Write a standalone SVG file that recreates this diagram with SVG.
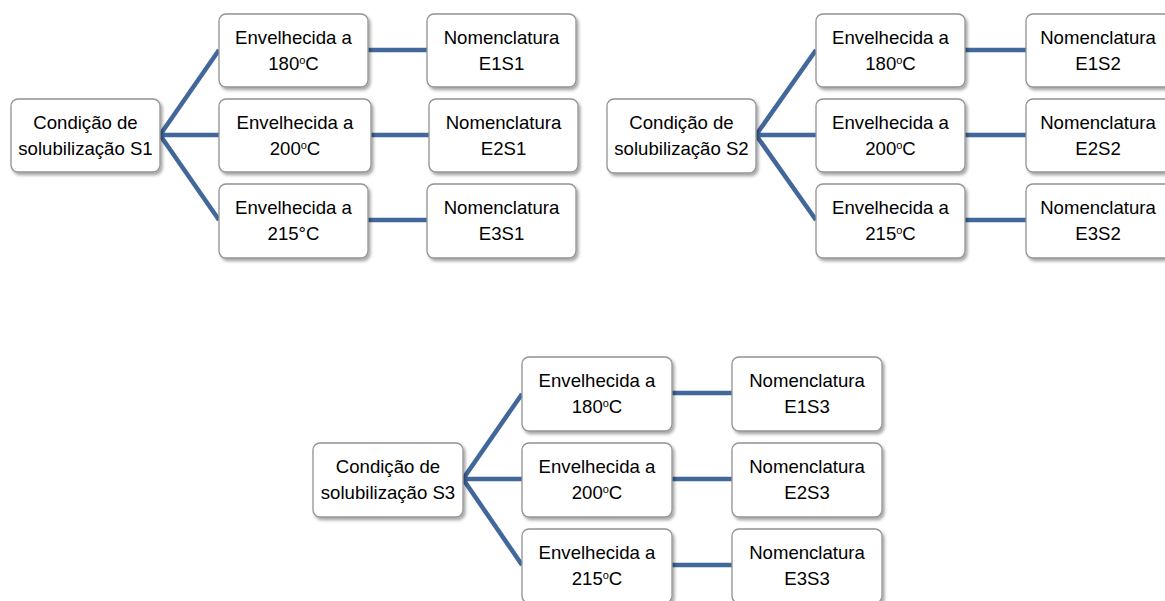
<svg xmlns="http://www.w3.org/2000/svg" width="1165" height="601" viewBox="0 0 1165 601">
<style>
.box{fill:#fff;stroke:#939393;stroke-width:1.3;filter:url(#sh)}
.t{font-family:"Liberation Sans",Arial,sans-serif;font-size:18.6px;fill:#000;text-anchor:middle}
.s{font-size:11px}
.c{stroke:#41679b;stroke-width:4.5;fill:none}
</style>
<defs>
<filter id="sh" x="-10%" y="-10%" width="125%" height="130%">
<feDropShadow dx="2" dy="2.5" stdDeviation="1.6" flood-color="#000" flood-opacity="0.35"/>
</filter>
</defs>
<rect width="1165" height="601" fill="#fff"/>
<g id="connectors">
<path class="c" d="M160,135 L219,50 M160,135 L219,135 M160,135 L219,220 M368,50 L427,50 M371,135 L429,135 M368,220 L427,220"/>
<path class="c" d="M756,135 L816,50 M756,135 L816,135 M756,135 L816,220 M965,50 L1026,50 M965,135 L1026,135 M965,220 L1026,220"/>
<path class="c" d="M463,479 L522,394 M463,479 L522,479 M463,479 L522,565 M672,393 L732,393 M672,479 L732,479 M672,565 L732,565"/>
</g>
<g id="s1"><rect class="box" x="11" y="99" width="149" height="73" rx="7"/><text class="t" x="85.5" y="129">Condição de</text><text class="t" x="85.5" y="155">solubilização S1</text></g>
<g id="a180s1"><rect class="box" x="219" y="14" width="149" height="73" rx="7"/><text class="t" x="293.5" y="44">Envelhecida a</text><text class="t" x="293.5" y="70">180<tspan class="s" dy="-6">o</tspan><tspan dy="6">C</tspan></text></g>
<g id="a200s1"><rect class="box" x="219" y="99" width="152" height="73" rx="7"/><text class="t" x="295" y="129">Envelhecida a</text><text class="t" x="295" y="155">200<tspan class="s" dy="-6">o</tspan><tspan dy="6">C</tspan></text></g>
<g id="a215s1"><rect class="box" x="219" y="184" width="149" height="74" rx="7"/><text class="t" x="293.5" y="214">Envelhecida a</text><text class="t" x="293.5" y="240">215°C</text></g>
<g id="e1s1"><rect class="box" x="427" y="14" width="149" height="73" rx="7"/><text class="t" x="501.5" y="44">Nomenclatura</text><text class="t" x="501.5" y="70">E1S1</text></g>
<g id="e2s1"><rect class="box" x="429" y="99" width="149" height="73" rx="7"/><text class="t" x="503.5" y="129">Nomenclatura</text><text class="t" x="503.5" y="155">E2S1</text></g>
<g id="e3s1"><rect class="box" x="427" y="184" width="149" height="74" rx="7"/><text class="t" x="501.5" y="214">Nomenclatura</text><text class="t" x="501.5" y="240">E3S1</text></g>

<g id="s2"><rect class="box" x="607" y="99" width="149" height="74" rx="7"/><text class="t" x="681.5" y="129">Condição de</text><text class="t" x="681.5" y="155">solubilização S2</text></g>
<g id="a180s2"><rect class="box" x="816" y="14" width="149" height="73" rx="7"/><text class="t" x="890.5" y="44">Envelhecida a</text><text class="t" x="890.5" y="70">180<tspan class="s" dy="-6">o</tspan><tspan dy="6">C</tspan></text></g>
<g id="a200s2"><rect class="box" x="816" y="99" width="149" height="73" rx="7"/><text class="t" x="890.5" y="129">Envelhecida a</text><text class="t" x="890.5" y="155">200<tspan class="s" dy="-6">o</tspan><tspan dy="6">C</tspan></text></g>
<g id="a215s2"><rect class="box" x="816" y="184" width="149" height="74" rx="7"/><text class="t" x="890.5" y="214">Envelhecida a</text><text class="t" x="890.5" y="240">215<tspan class="s" dy="-6">o</tspan><tspan dy="6">C</tspan></text></g>
<g id="e1s2"><rect class="box" x="1026" y="14" width="149" height="73" rx="7"/><text class="t" x="1098" y="44">Nomenclatura</text><text class="t" x="1098" y="70">E1S2</text></g>
<g id="e2s2"><rect class="box" x="1026" y="99" width="149" height="73" rx="7"/><text class="t" x="1098" y="129">Nomenclatura</text><text class="t" x="1098" y="155">E2S2</text></g>
<g id="e3s2"><rect class="box" x="1026" y="184" width="149" height="74" rx="7"/><text class="t" x="1098" y="214">Nomenclatura</text><text class="t" x="1098" y="240">E3S2</text></g>

<g id="s3"><rect class="box" x="313" y="443" width="150" height="74" rx="7"/><text class="t" x="388" y="473">Condição de</text><text class="t" x="388" y="499">solubilização S3</text></g>
<g id="a180s3"><rect class="box" x="522" y="357" width="150" height="74" rx="7"/><text class="t" x="597" y="387">Envelhecida a</text><text class="t" x="597" y="413">180<tspan class="s" dy="-6">o</tspan><tspan dy="6">C</tspan></text></g>
<g id="a200s3"><rect class="box" x="522" y="443" width="150" height="74" rx="7"/><text class="t" x="597" y="473">Envelhecida a</text><text class="t" x="597" y="499">200<tspan class="s" dy="-6">o</tspan><tspan dy="6">C</tspan></text></g>
<g id="a215s3"><rect class="box" x="522" y="529" width="150" height="74" rx="7"/><text class="t" x="597" y="559">Envelhecida a</text><text class="t" x="597" y="585">215<tspan class="s" dy="-6">o</tspan><tspan dy="6">C</tspan></text></g>
<g id="e1s3"><rect class="box" x="732" y="357" width="150" height="74" rx="7"/><text class="t" x="807" y="387">Nomenclatura</text><text class="t" x="807" y="413">E1S3</text></g>
<g id="e2s3"><rect class="box" x="732" y="443" width="150" height="74" rx="7"/><text class="t" x="807" y="473">Nomenclatura</text><text class="t" x="807" y="499">E2S3</text></g>
<g id="e3s3"><rect class="box" x="732" y="529" width="150" height="74" rx="7"/><text class="t" x="807" y="559">Nomenclatura</text><text class="t" x="807" y="585">E3S3</text></g>
</svg>
